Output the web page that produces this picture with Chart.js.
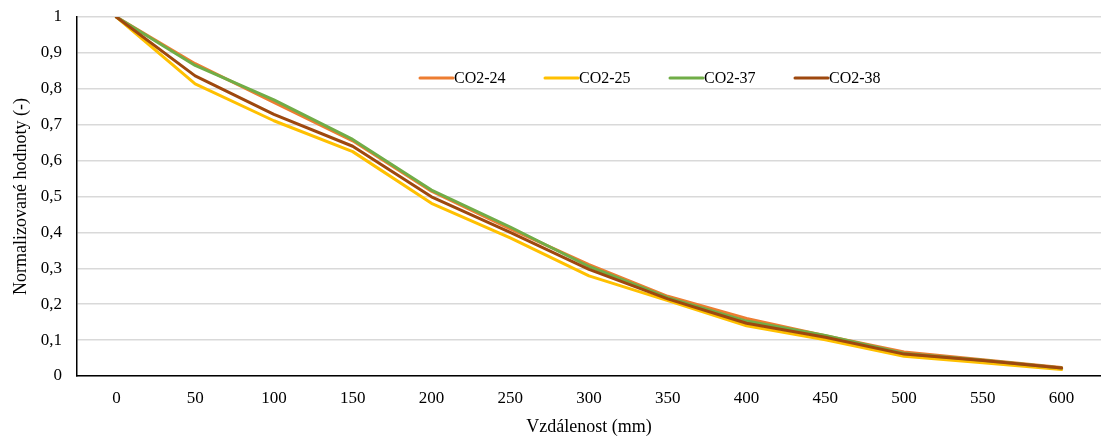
<!DOCTYPE html>
<html>
<head>
<meta charset="utf-8">
<script src="https://cdn.jsdelivr.net/npm/chart.js@4.4.1/dist/chart.umd.min.js"></script>
<style>
  html, body { margin: 0; padding: 0; background: #fff; overflow: hidden; }
  #wrap { width: 1101px; height: 438px; }
</style>
</head>
<body>
<div id="wrap"><canvas id="chart"></canvas></div>
<script>
const distances = ["0", "50", "100", "150", "200", "250", "300", "350", "400", "450", "500", "550", "600"];
const yTickLabels = ["0", "0,1", "0,2", "0,3", "0,4", "0,5", "0,6", "0,7", "0,8", "0,9", "1"];

const co2_24 = [1, 0.87, 0.762, 0.655, 0.515, 0.41, 0.31, 0.222, 0.16, 0.112, 0.067, 0.045, 0.024];
const co2_25 = [1, 0.814, 0.711, 0.625, 0.481, 0.385, 0.279, 0.21, 0.14, 0.101, 0.055, 0.037, 0.018];
const co2_37 = [1, 0.865, 0.769, 0.659, 0.518, 0.415, 0.305, 0.218, 0.153, 0.113, 0.063, 0.044, 0.022];
const co2_38 = [1, 0.836, 0.729, 0.64, 0.499, 0.4, 0.297, 0.215, 0.147, 0.108, 0.061, 0.043, 0.022];

const seriesNames = ["CO2-24", "CO2-25", "CO2-37", "CO2-38"];
const seriesColors = ["#ED7D31", "#FFC000", "#70AD47", "#9E480E"];

const serif = "'Liberation Serif', 'Times New Roman', serif";

// legend drawn inside the plot, like the Excel one
const innerLegend = {
    id: "innerLegend",
    afterDatasetsDraw(chart) {
        const ctx = chart.ctx;
        const y = 78;
        let x = 420;
        ctx.save();
        ctx.font = "16px " + serif;
        ctx.textBaseline = "middle";
        ctx.fillStyle = "#000";
        chart.data.datasets.forEach((ds) => {
            ctx.strokeStyle = ds.borderColor;
            ctx.lineWidth = 3;
            ctx.lineCap = "round";
            ctx.beginPath();
            ctx.moveTo(x, y);
            ctx.lineTo(x + 33, y);
            ctx.stroke();
            ctx.fillText(ds.label, x + 34, y + 1);
            x += 125;
        });
        ctx.restore();
    },
};

function makeDataset(label, data, color, order) {
    return {
        label,
        data,
        borderColor: color,
        backgroundColor: color,
        borderWidth: 3,
        pointRadius: 0,
        tension: 0,
        borderJoinStyle: "round",
        borderCapStyle: "round",
        order, // later series on top, like Excel
    };
}

new Chart(document.getElementById("chart"), {
    type: "line",
    data: {
        labels: distances,
        datasets: [
            makeDataset(seriesNames[0], co2_24, seriesColors[0], 4),
            makeDataset(seriesNames[1], co2_25, seriesColors[1], 3),
            makeDataset(seriesNames[2], co2_37, seriesColors[2], 2),
            makeDataset(seriesNames[3], co2_38, seriesColors[3], 1),
        ],
    },
    options: {
        responsive: true,
        maintainAspectRatio: false,
        animation: false,
        layout: { padding: { top: 17, right: 0, bottom: 0, left: 0 } },
        plugins: {
            legend: { display: false },
            tooltip: { enabled: false },
        },
        scales: {
            x: {
                offset: true,
                grid: { display: false, drawTicks: false },
                border: { display: true, color: "#000", width: 1.5 },
                ticks: {
                    color: "#000",
                    padding: 12,
                    maxRotation: 0,
                    autoSkip: false,
                    font: { family: serif, size: 17 },
                },
                title: {
                    display: true,
                    text: "Vzdálenost (mm)",
                    color: "#000",
                    font: { family: serif, size: 18 },
                    padding: { top: 0, bottom: 0 },
                },
                afterFit(scale) {
                    scale.height = 62;
                    scale.paddingLeft = 0;
                    scale.paddingRight = 0;
                },
            },
            y: {
                min: 0,
                max: 1,
                grid: { color: "#D9D9D9", lineWidth: 1.5, drawTicks: false },
                border: { display: true, color: "#000", width: 1.5 },
                ticks: {
                    stepSize: 0.1,
                    color: "#000",
                    padding: 15,
                    font: { family: serif, size: 17 },
                    callback: (value, index) => yTickLabels[index],
                },
                title: {
                    display: true,
                    text: "Normalizované hodnoty (-)",
                    color: "#000",
                    font: { family: serif, size: 18 },
                    padding: { top: 10, bottom: 0 },
                },
                afterFit(scale) {
                    scale.width = 77;
                    scale.paddingTop = 0;
                    scale.paddingBottom = 0;
                },
            },
        },
    },
    plugins: [innerLegend],
});
</script>
</body>
</html>
